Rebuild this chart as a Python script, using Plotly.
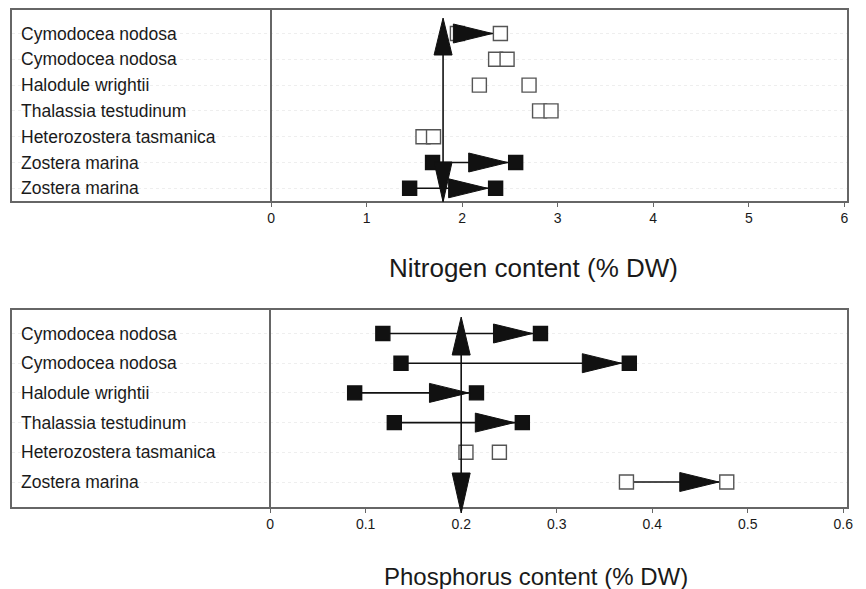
import plotly.graph_objects as go

# ---------------- data ----------------
species_n = ["Cymodocea nodosa", "Cymodocea nodosa", "Halodule wrightii",
             "Thalassia testudinum", "Heterozostera tasmanica",
             "Zostera marina", "Zostera marina"]
n_start = [1.95, 2.35, 2.18, 2.81, 1.59, 1.69, 1.45]
n_end = [2.40, 2.47, 2.70, 2.93, 1.70, 2.56, 2.35]
n_filled = [False, False, False, False, False, True, True]
n_arrow = [True, False, False, False, False, True, True]
n_critical = 1.8

species_p = ["Cymodocea nodosa", "Cymodocea nodosa", "Halodule wrightii",
             "Thalassia testudinum", "Heterozostera tasmanica",
             "Zostera marina"]
p_start = [0.118, 0.137, 0.0885, 0.130, 0.205, 0.373]
p_end = [0.283, 0.376, 0.216, 0.264, 0.240, 0.478]
p_filled = [True, True, True, True, False, False]
p_arrow = [True, True, True, True, False, True]
p_critical = 0.2

n_ticks = [0, 1, 2, 3, 4, 5, 6]
n_ticklabels = ["0", "1", "2", "3", "4", "5", "6"]
p_ticks = [0, 0.1, 0.2, 0.3, 0.4, 0.5, 0.6]
p_ticklabels = ["0", "0.1", "0.2", "0.3", "0.4", "0.5", "0.6"]

n_title = "Nitrogen content (% DW)"
p_title = "Phosphorus content (% DW)"

# ---------------- layout geometry ----------------
W, H = 866, 589
FONT = "Liberation Sans, Arial, Helvetica, sans-serif"
BOX = "#666666"
INK = "#111111"
PXU = 96.2  # pixels per axis unit (N) / per 0.1 (P)

def fy(px):
    return (H - px) / H

x_dom = [12 / W, 853 / W]
top_dom = [fy(201), fy(10)]
bot_dom = [fy(507), fy(310)]

fig = go.Figure()
shapes = []
annotations = []


def panel(species, start, end, filled, arrow, critical, xa, ya, xref, yref, dom,
          tip_top, base_top, tip_bot, base_bot):
    rows = list(range(len(species)))
    # shafts
    sx, sy = [], []
    for i in rows:
        if arrow[i]:
            sx += [start[i], end[i], None]
            sy += [i, i, None]
    fig.add_trace(go.Scatter(x=sx, y=sy, mode="lines", xaxis=xa, yaxis=ya,
                             line=dict(color=INK, width=1.6),
                             showlegend=False, hoverinfo="skip"))
    # markers
    mx, my, mcol, mline = [], [], [], []
    for i in rows:
        for v in (start[i], end[i]):
            mx.append(v)
            my.append(i)
            mcol.append(INK if filled[i] else "white")
            mline.append(INK if filled[i] else "#555555")
    fig.add_trace(go.Scatter(x=mx, y=my, mode="markers", xaxis=xa, yaxis=ya,
                             marker=dict(symbol="square", size=14, color=mcol,
                                         line=dict(color=mline, width=1.4)),
                             showlegend=False, hoverinfo="skip"))
    # horizontal arrowheads
    for i in rows:
        if arrow[i]:
            shapes.append(dict(type="path", xref=xref, yref=yref,
                               xsizemode="pixel", ysizemode="pixel",
                               xanchor=end[i], yanchor=i,
                               path="M-47,-9.5 L-8,0 L-47,9.5 Z",
                               fillcolor=INK, line=dict(color=INK, width=1),
                               layer="above"))
    # vertical critical-level arrow
    shapes.append(dict(type="line", xref=xref, yref="paper",
                       x0=critical, x1=critical,
                       y0=dom[0], y1=dom[1] - 25 / H,
                       line=dict(color=INK, width=1.6), layer="above"))
    shapes.append(dict(type="path", xref=xref, yref="paper",
                       xsizemode="pixel", ysizemode="pixel",
                       xanchor=critical, yanchor=dom[1],
                       path=f"M-9,-{base_top} L0,-{tip_top} L9,-{base_top} Z",
                       fillcolor=INK, line=dict(color=INK, width=1),
                       layer="above"))
    shapes.append(dict(type="path", xref=xref, yref="paper",
                       xsizemode="pixel", ysizemode="pixel",
                       xanchor=critical, yanchor=dom[0],
                       path=f"M-9,{base_bot} L0,{tip_bot} L9,{base_bot} Z",
                       fillcolor=INK, line=dict(color=INK, width=1),
                       layer="above"))
    # species labels
    for i, s in enumerate(species):
        annotations.append(dict(text=s, xref="paper", yref=yref,
                                x=19 / W, y=i, xanchor="left", yanchor="middle",
                                showarrow=False,
                                font=dict(family=FONT, size=17.5, color="#1a1a1a")))


panel(species_n, n_start, n_end, n_filled, n_arrow, n_critical,
      "x", "y", "x", "y", top_dom, 8, 45, -1, 39)
panel(species_p, p_start, p_end, p_filled, p_arrow, p_critical,
      "x2", "y2", "x2", "y2", bot_dom, 7, 45, -6, 34)

annotations.append(dict(text=n_title, xref="paper", yref="paper",
                        x=537 / W, y=fy(268), xanchor="center", yanchor="middle",
                        showarrow=False,
                        font=dict(family=FONT, size=26, color="#1a1a1a")))
annotations.append(dict(text=p_title, xref="paper", yref="paper",
                        x=540 / W, y=fy(576), xanchor="center", yanchor="middle",
                        showarrow=False,
                        font=dict(family=FONT, size=24, color="#1a1a1a")))

common_x = dict(showline=True, mirror=True, linecolor=BOX, linewidth=1.5,
                ticks="outside", ticklen=4, tickcolor=BOX, tickwidth=1,
                zeroline=True, zerolinecolor=BOX, zerolinewidth=1.5,
                showgrid=False, ticklabelstandoff=-1,
                tickfont=dict(family=FONT, size=14, color="#1a1a1a"))
common_y = dict(showline=True, mirror=True, linecolor=BOX, linewidth=1.5,
                ticks="", showticklabels=False, zeroline=False,
                showgrid=True, gridcolor="#eeeeee", griddash="dot", gridwidth=1)

fig.update_layout(
    width=W, height=H,
    margin=dict(l=0, r=0, t=0, b=0),
    paper_bgcolor="white", plot_bgcolor="white",
    xaxis=dict(domain=x_dom, range=[-261 / PXU, 580 / PXU],
               tickvals=n_ticks, ticktext=n_ticklabels, anchor="y", **common_x),
    yaxis=dict(domain=top_dom, range=[(201 - 33.5) / 25.8, (10 - 33.5) / 25.8],
               tickvals=list(range(len(species_n))), anchor="x", **common_y),
    xaxis2=dict(domain=x_dom, range=[-260 / (PXU * 10), 581 / (PXU * 10)],
                tickvals=p_ticks, ticktext=p_ticklabels, anchor="y2", **common_x),
    yaxis2=dict(domain=bot_dom, range=[(507 - 333.5) / 29.7, (310 - 333.5) / 29.7],
                tickvals=list(range(len(species_p))), anchor="x2", **common_y),
    shapes=shapes,
    annotations=annotations,
)

fig.write_html("out.html")
